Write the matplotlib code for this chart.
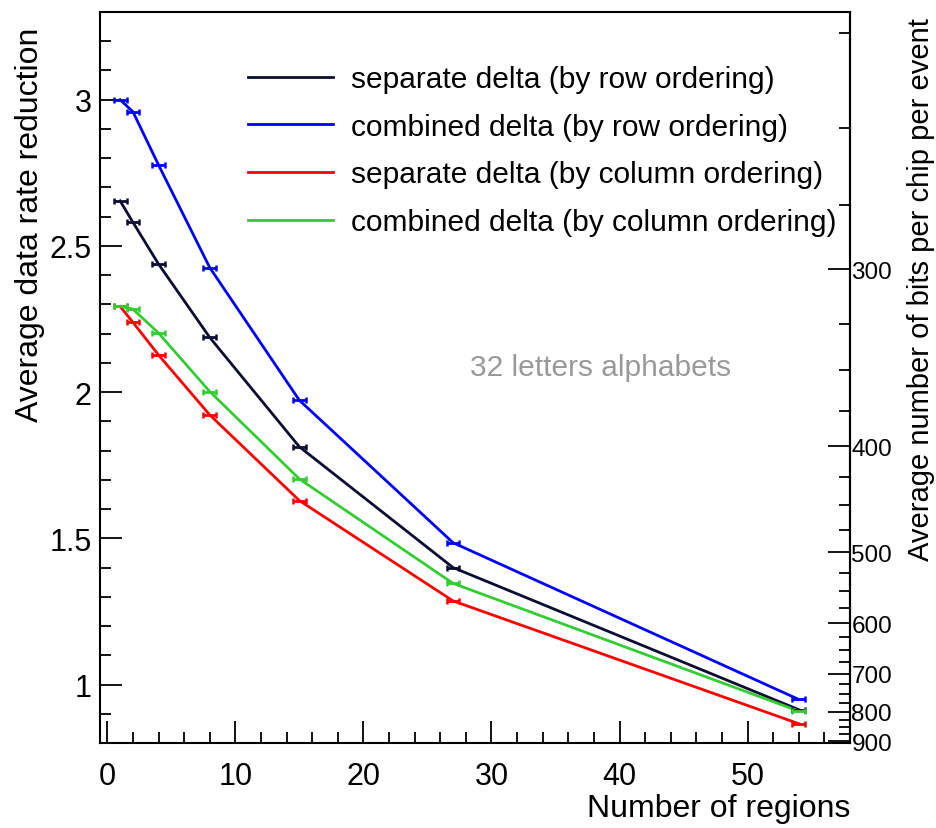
import numpy as np
import matplotlib
matplotlib.use("Agg")
import matplotlib.pyplot as plt
from matplotlib.ticker import FixedLocator, MultipleLocator

plt.rcParams['font.family'] = ['Liberation Sans', 'DejaVu Sans']

# ---------------- data ----------------
n_regions = [1, 2, 4, 8, 15, 27, 54]
x_err = 0.5
sep_row = [2.654, 2.581, 2.438, 2.187, 1.813, 1.400, 0.914]
comb_row = [3.000, 2.959, 2.777, 2.426, 1.972, 1.485, 0.949]
sep_col = [2.293, 2.239, 2.127, 1.922, 1.629, 1.286, 0.866]
comb_col = [2.293, 2.284, 2.202, 2.002, 1.703, 1.346, 0.909]
series_labels = ["separate delta (by row ordering)",
                 "combined delta (by row ordering)",
                 "separate delta (by column ordering)",
                 "combined delta (by column ordering)"]
series_colors = ["#0c0c33", "#0000ff", "#ff0000", "#33cc33"]
annotation = "32 letters alphabets"
# uncompressed bits per chip per event (right axis = this / reduction)
bits_uncompressed = 726.0
right_major = [300, 400, 500, 600, 700, 800, 900]
right_minor = list(range(225, 901, 25))

W, H = 937, 829
fig = plt.figure(figsize=(W / 100, H / 100), dpi=100)
ax = fig.add_axes([100 / W, (H - 744) / H, 750 / W, 731 / H])

handles = []
for ys, col, lab in zip([sep_row, comb_row, sep_col, comb_col], series_colors, series_labels):
    ln, = ax.plot(n_regions, ys, color=col, lw=2.0, label=lab, zorder=3)
    ax.errorbar(n_regions, ys, xerr=x_err, fmt='none', ecolor=col, elinewidth=2.0,
                capsize=2.5, capthick=1.8, zorder=4)
    handles.append(ln)

ax.set_xlim(-0.57, 58.0)
ax.set_ylim(0.8, 3.3)

ax.xaxis.set_major_locator(MultipleLocator(10))
ax.xaxis.set_minor_locator(MultipleLocator(2))
ax.yaxis.set_major_locator(FixedLocator([1, 1.5, 2, 2.5, 3]))
ax.yaxis.set_minor_locator(MultipleLocator(0.1))
ax.set_yticklabels(["1", "1.5", "2", "2.5", "3"])

ax.tick_params(axis='both', which='major', direction='in', length=15.8, width=1.3,
               labelsize=22, top=False, right=False)
ax.tick_params(axis='both', which='minor', direction='in', length=7.9, width=1.3,
               top=False, right=False)
ax.tick_params(axis='x', which='major', pad=13)
ax.tick_params(axis='y', which='major', pad=6)
for s in ax.spines.values():
    s.set_linewidth(1.5)

def to_bits(r):
    r = np.asarray(r, dtype=float)
    with np.errstate(divide='ignore', invalid='ignore'):
        return bits_uncompressed / r

sec = ax.secondary_yaxis('right', functions=(to_bits, to_bits))
sec.yaxis.set_major_locator(FixedLocator(right_major))
sec.yaxis.set_minor_locator(FixedLocator(right_minor))
sec.set_yticklabels([str(v) for v in right_major])
sec.tick_params(axis='y', which='major', direction='in', length=15.8, width=1.3,
                labelsize=17.5, pad=1)
sec.tick_params(axis='y', which='minor', direction='in', length=7.9, width=1.3)
sec.spines['right'].set_linewidth(1.5)

leg = ax.legend(handles=handles, loc='upper left',
                bbox_to_anchor=(248 / W, 1 - 66 / H), bbox_transform=fig.transFigure,
                frameon=False, fontsize=21.5, handlelength=2.85, handletextpad=0.6,
                labelspacing=0.66, borderpad=0, borderaxespad=0)

fig.text(601 / W, 1 - 368 / H, annotation, fontsize=21.5, color="#999999",
         ha='center', va='center')

fig.text(30 / W, 1 - 28 / H, "Average data rate reduction", rotation=90,
         ha='center', va='top', fontsize=23)
fig.text(921 / W, 1 - 18 / H, "Average number of bits per chip per event", rotation=90,
         ha='center', va='top', fontsize=21)
fig.text(850 / W, 1 - 809 / H, "Number of regions", ha='right', va='center', fontsize=23)

fig.savefig("out.png", dpi=100)
